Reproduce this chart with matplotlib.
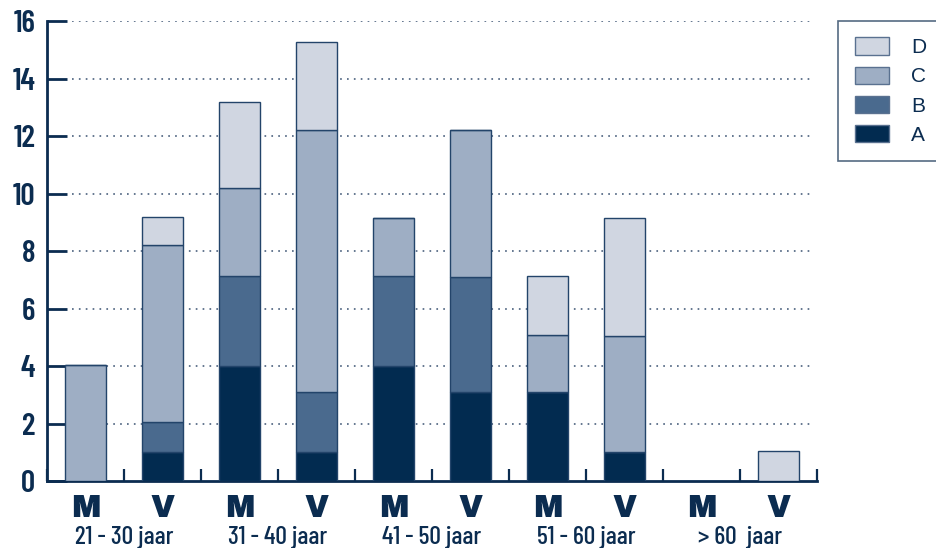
import matplotlib
matplotlib.use("Agg")
import matplotlib.pyplot as plt
from matplotlib.patches import Patch
import matplotlib.transforms as mtransforms

# ---- data ----
bar_labels = ["M", "V", "M", "V", "M", "V", "M", "V", "M", "V"]
groups = ["21 - 30 jaar", "31 - 40 jaar", "41 - 50 jaar", "51 - 60 jaar", "> 60  jaar"]
A = [0, 1.0, 4.0, 1.0, 4.0, 3.1, 3.1, 1.0, 0, 0]
B = [0, 1.05, 3.15, 2.1, 3.15, 4.0, 0, 0, 0, 0]
C = [4.03, 6.15, 3.05, 9.1, 2.0, 5.1, 1.97, 4.03, 0, 0]
D = [0, 1.0, 3.0, 3.07, 0, 0, 2.06, 4.14, 0, 1.05]
series = {"A": A, "B": B, "C": C, "D": D}
colors = {"A": "#022b50", "B": "#4a6a8e", "C": "#9eaec4", "D": "#d0d6e1"}
yticks = [0, 2, 4, 6, 8, 10, 12, 14, 16]

navy = "#0b2c50"
cond = ["Barlow Condensed", "DejaVu Sans"]
heavy = ["Archivo Black", "Lato Black", "Barlow", "DejaVu Sans"]

fig = plt.figure(figsize=(9.37, 5.48), dpi=100)
ax = fig.add_axes([47/937, 67/548, 770/937, 459.7/548])

x = list(range(len(bar_labels)))
bottom = [0.0] * len(x)
handles = {}
for name, vals in series.items():
    ax.bar(x, vals, width=0.53, bottom=bottom, color=colors[name],
           edgecolor="#23446a", linewidth=1.0, zorder=3)
    bottom = [b + v for b, v in zip(bottom, vals)]
    handles[name] = Patch(facecolor=colors[name], edgecolor="#5a7190", linewidth=1.0)

ax.set_xlim(-0.5, len(x) - 0.5)
ax.set_ylim(0, 16)

# grid
for yv in yticks[1:]:
    ax.axhline(yv, xmin=25/770, xmax=766/770, color="#3a5272", linewidth=1.1,
               linestyle=(0, (1.1, 3.4)), zorder=1)

for s in ["top", "right"]:
    ax.spines[s].set_visible(False)
for s in ["left", "bottom"]:
    ax.spines[s].set_color(navy)
    ax.spines[s].set_linewidth(2)

ax.set_yticks(yticks)
ax.set_yticklabels([str(v) for v in yticks], family=cond, fontweight="semibold",
                   fontsize=22.5, color=navy)
ax.tick_params(axis="y", direction="in", length=14.5, width=2, color=navy, pad=8.5)

ax.set_xticks(x)
ax.set_xticklabels(bar_labels, family=heavy, fontweight="black",
                   fontsize=22.5, color=navy)
ax.tick_params(axis="x", which="major", length=0, pad=9.5)
ax.set_xticks([i + 0.5 for i in range(-1, len(x))], minor=True)
ax.tick_params(axis="x", which="minor", direction="in", length=9, width=1.6, color=navy)

trans = mtransforms.blended_transform_factory(ax.transData, ax.transAxes)
for i, g in enumerate(groups):
    ax.text(2 * i + 0.5, -0.122, g, transform=trans, ha="center", va="center",
            family=cond, fontweight="medium", fontsize=18.5, color=navy)

leg = fig.legend([handles[k] for k in ["D", "C", "B", "A"]], ["D", "C", "B", "A"],
                 loc="upper left", bbox_to_anchor=(838/937, 1 - 20.7/548),
                 borderaxespad=0, prop={"family": ["Liberation Sans", "DejaVu Sans"], "size": 15},
                 frameon=True, fancybox=False,
                 handlelength=1.65, handleheight=0.9, handletextpad=1.05,
                 labelspacing=0.45, borderpad=0.8)
leg.get_frame().set_edgecolor("#2a4563")
leg.get_frame().set_linewidth(1.2)
for t in leg.get_texts():
    t.set_color(navy)

fig.savefig("out.png", dpi=100)
